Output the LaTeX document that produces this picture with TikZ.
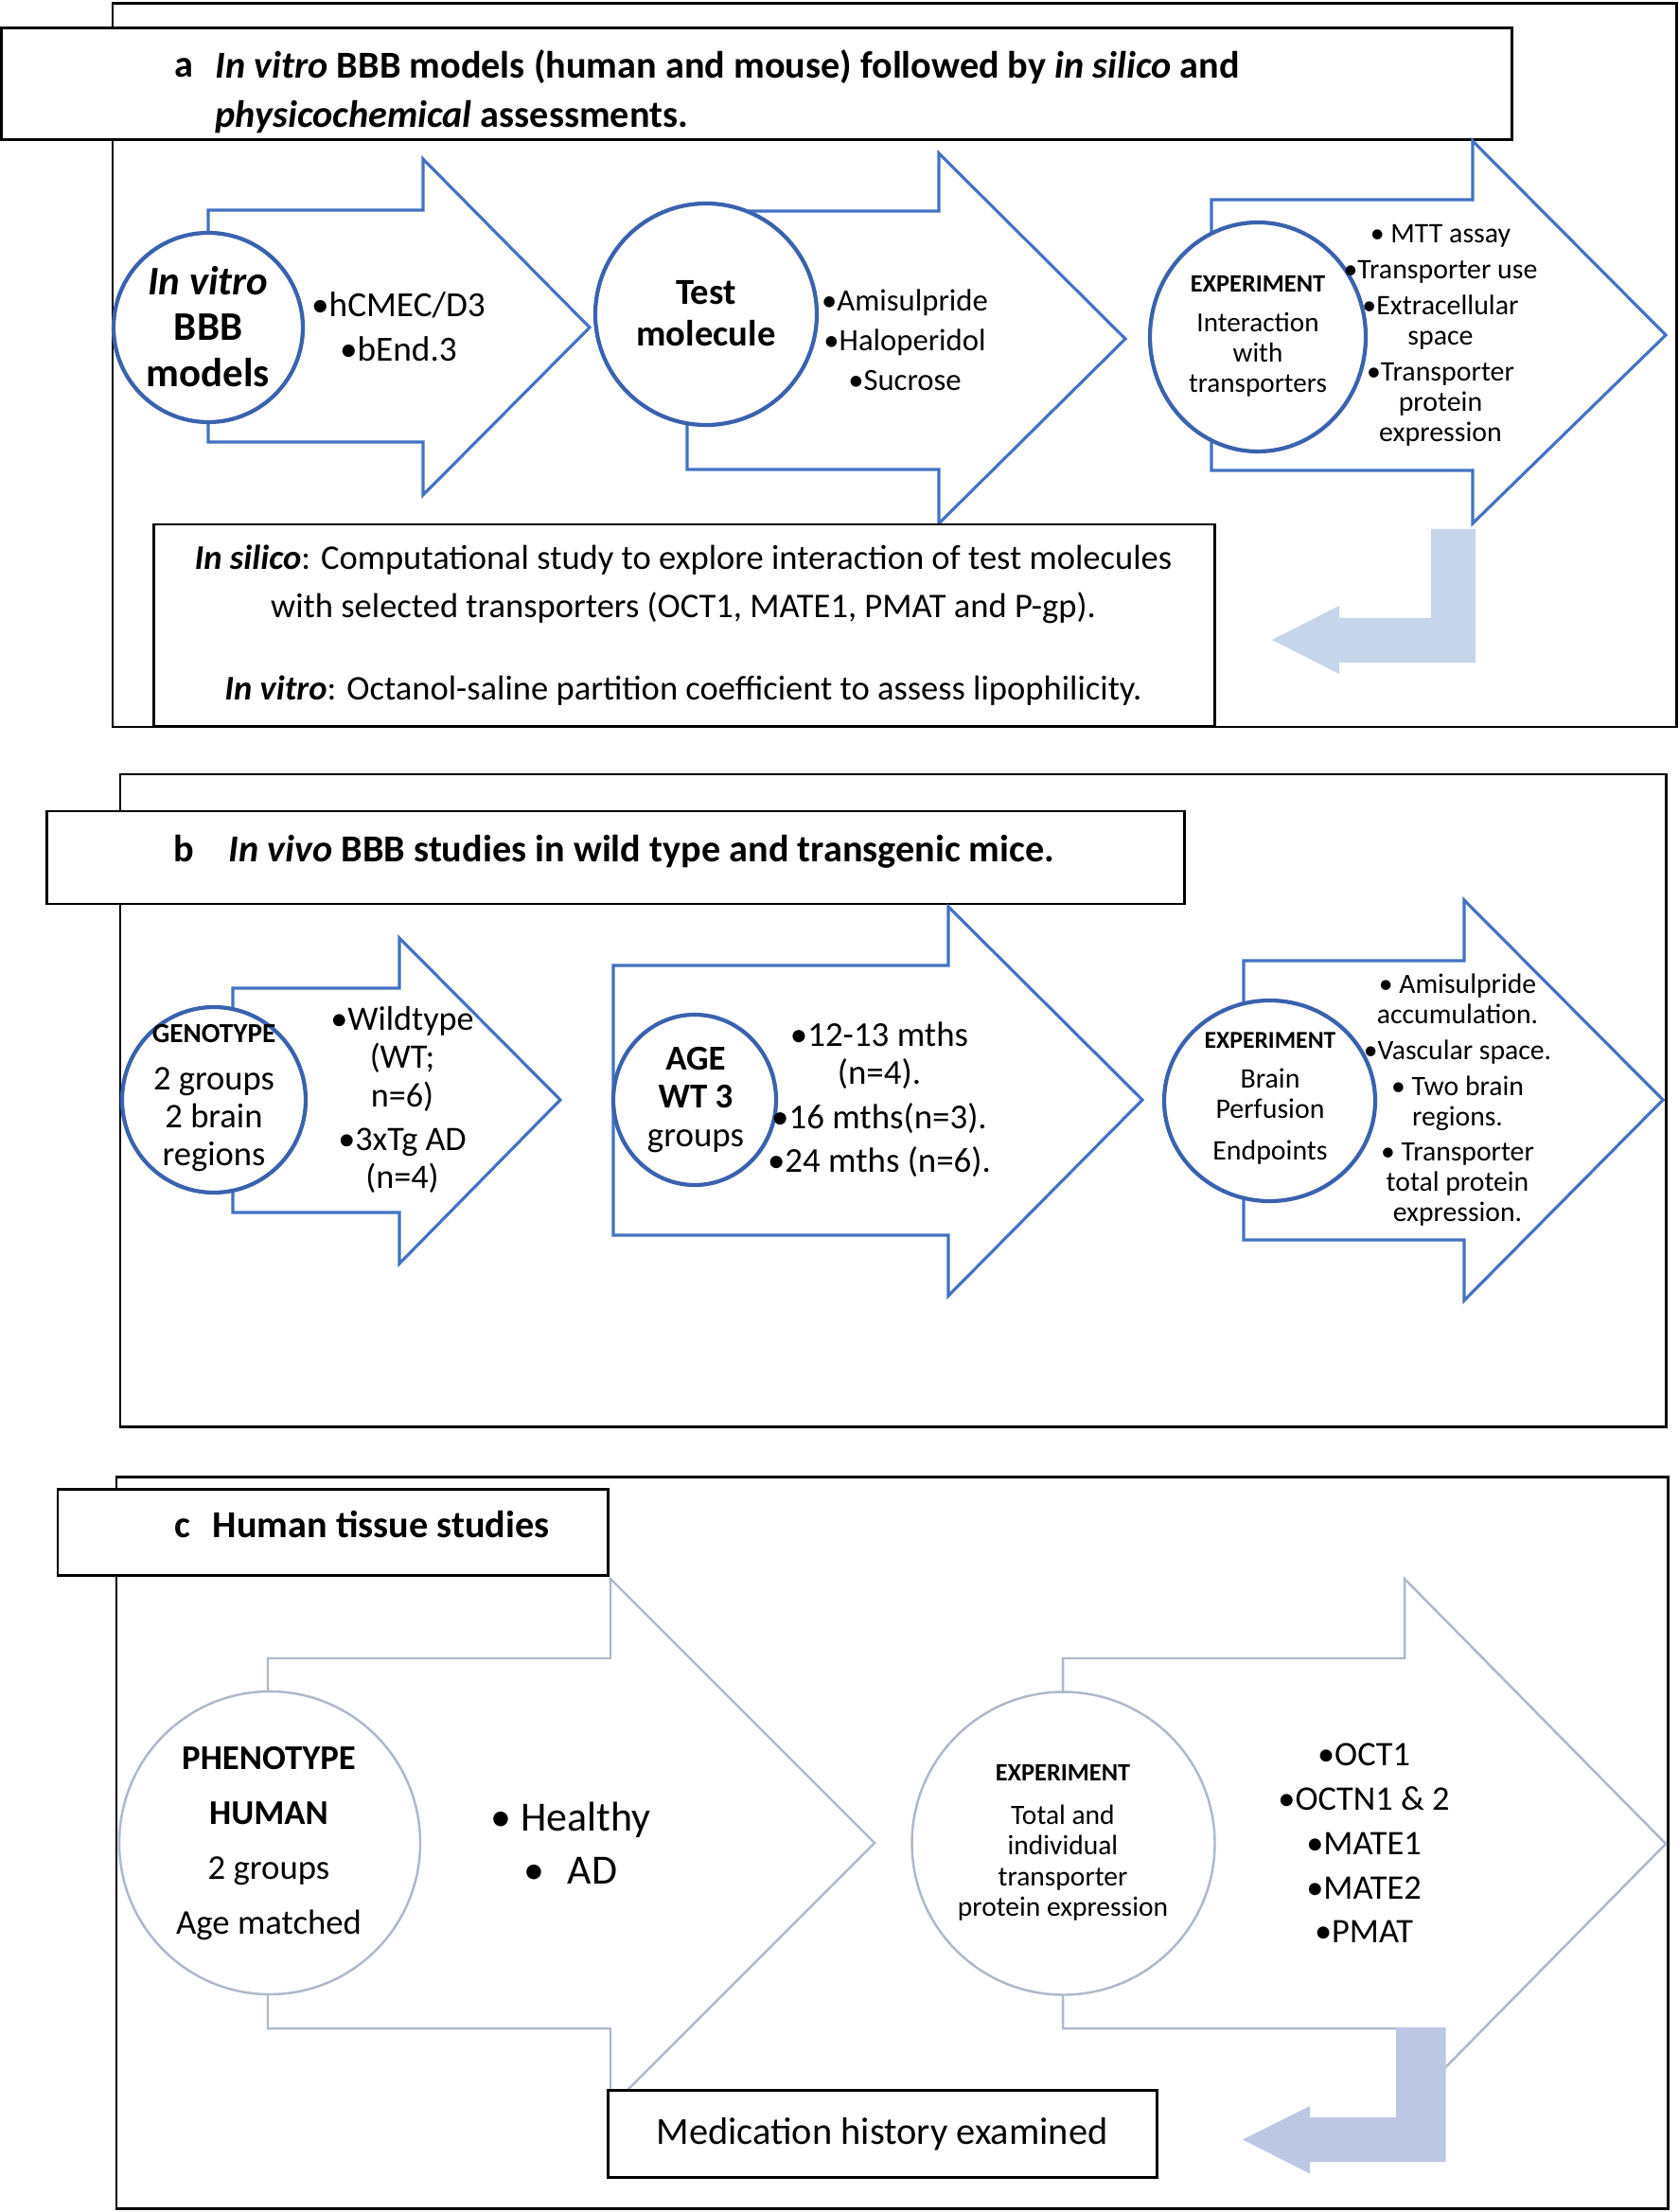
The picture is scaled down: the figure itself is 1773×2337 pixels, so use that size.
\documentclass[tikz,border=0pt]{standalone}
\usepackage{fontspec}
\setmainfont{Carlito}
\usetikzlibrary{shapes.geometric}
\newcommand{\myfs}[2]{\fontsize{#1pt}{#2pt}\selectfont}
\definecolor{arrowblue}{HTML}{4472C4}
\definecolor{circblue}{HTML}{3A62AE}
\definecolor{greyblue}{HTML}{ADB9CA}
\definecolor{bentA}{HTML}{C5D5EA}
\definecolor{bentC}{HTML}{BCC7E3}
\tikzset{
  panelbox/.style={draw=black, line width=0.85pt},
  titlebox/.style={draw=black, fill=white, line width=0.85pt},
  blockarrow/.style={draw=arrowblue, line width=0.9pt, line join=miter},
  greyarrow/.style={draw=greyblue, line width=0.7pt, line join=miter},
  circA/.style={draw=circblue, fill=white, line width=1.2pt, ellipse, inner sep=0pt},
  circC/.style={draw=greyblue, fill=white, line width=0.7pt, ellipse, inner sep=0pt},
  txt/.style={inner sep=0pt, align=center},
}
\begin{document}
\begin{tikzpicture}[x=0.1mm, y=-0.1mm]
\useasboundingbox[fill=white] (0,0) rectangle (1773,2337);

% ================= Panel a =================
\draw[panelbox] (119,4) rectangle (1771,768);
\node[titlebox, minimum width=159.6mm, minimum height=11.8mm, inner sep=0pt] (titleA) at (799,89) {};
\node[txt, anchor=base west, font=\myfs{11.45}{14.8}\bfseries] (alab) at (184,82) {a};
\node[txt, anchor=west, align=left, font=\myfs{11.45}{14.8}\bfseries] (atitle) at (227,97)
  {\textit{In vitro} BBB models (human and mouse) followed by \textit{in silico} and\\\textit{physicochemical} assessments.};

\draw[blockarrow] (220,222) -- (447,222) -- (447,168) -- (623,346) -- (447,523) -- (447,467) -- (220,467) -- cycle;
\draw[blockarrow] (726,223) -- (992,223) -- (992,162) -- (1189,358) -- (992,553) -- (992,496) -- (726,496) -- cycle;
\draw[blockarrow] (1280,211) -- (1556,211) -- (1556,149) -- (1760,354) -- (1556,553) -- (1556,497) -- (1280,497) -- cycle;

\node[circA, minimum width=20mm, minimum height=20mm] (ca1) at (220,346) {};
\node[circA, minimum width=23.4mm, minimum height=23.4mm] (ca2) at (746,332) {};
\node[circA, minimum width=22.8mm, minimum height=24.2mm] (ca3) at (1329,356) {};

\node[txt, font=\myfs{12.2}{13.7}\bfseries] (ta1) at (220,345) {\textit{In vitro}\\BBB\\models};
\node[txt, font=\myfs{10.6}{13.4}] (ba1) at (421,345) {•hCMEC/D3\\•bEnd.3};
\node[txt, font=\myfs{11}{12.5}\bfseries] (ta2) at (746,331) {Test\\molecule};
\node[txt, font=\myfs{9.3}{12}] (ba2) at (956,359) {•Amisulpride\\•Haloperidol\\•Sucrose};
\node[txt, font=\myfs{8.3}{9.1}] (ta3) at (1329,355) {{\bfseries\myfs{7.5}{9.1}EXPERIMENT}\\[2.8pt]Interaction\\with\\transporters};
\node[txt, font=\myfs{8.5}{9.1}] (ba3) at (1522,354) {• MTT assay\\[1.7pt]•Transporter use\\[1.7pt]•Extracellular\\space\\[1.7pt]•Transporter\\protein\\expression};

\fill[bentA] (1559,559) -- (1559,700) -- (1415,700) -- (1415,712) -- (1344,676) -- (1415,640) -- (1415,653) -- (1512,653) -- (1512,559) -- cycle;

\node[titlebox, minimum width=112.1mm, minimum height=21.3mm, inner sep=0pt] (boxA) at (722.5,660.5) {};
\node[txt, font=\myfs{10.4}{14.5}] (boxAtext) at (722,661)
  {\textbf{\textit{In silico}}: Computational study to explore interaction of test molecules\\with selected transporters (OCT1, MATE1, PMAT and P-gp).\\[10.2pt]\textbf{\textit{In vitro}}: Octanol-saline partition coefficient to assess lipophilicity.};

% ================= Panel b =================
\draw[panelbox] (127,818) rectangle (1760,1507);
\node[titlebox, minimum width=120.2mm, minimum height=9.8mm, inner sep=0pt] (titleB) at (650,906) {};
\node[txt, anchor=base west, font=\myfs{11.45}{14.8}\bfseries] (blab) at (183,910) {b};
\node[txt, anchor=base west, font=\myfs{11.45}{14.8}\bfseries] (btitle) at (241,910) {\textit{In vivo} BBB studies in wild type and transgenic mice.};

\draw[blockarrow] (246,1044) -- (422,1044) -- (422,991) -- (592,1162) -- (422,1335) -- (422,1281) -- (246,1281) -- cycle;
\draw[blockarrow] (648,1020) -- (1002,1020) -- (1002,958) -- (1207,1162) -- (1002,1369) -- (1002,1305) -- (648,1305) -- cycle;
\draw[blockarrow] (1314,1015) -- (1547,1015) -- (1547,951) -- (1757,1162) -- (1547,1374) -- (1547,1310) -- (1314,1310) -- cycle;

\node[circA, minimum width=19.4mm, minimum height=19.6mm] (cb1) at (226,1162) {};
\node[circA, minimum width=17.2mm, minimum height=18mm] (cb2) at (734,1162) {};
\node[circA, minimum width=22.3mm, minimum height=21.2mm] (cb3) at (1341.5,1163) {};

\node[txt, font=\myfs{10.4}{11.4}] (tb1) at (226,1160) {{\bfseries\myfs{8.3}{11.4}GENOTYPE}\\[2.8pt]2 groups\\2 brain\\regions};
\node[txt, font=\myfs{10.3}{11.5}] (bb1) at (425,1162) {•Wildtype\\(WT;\\n=6)\\[1.7pt]•3xTg AD\\(n=4)};
\node[txt, font=\myfs{10.5}{11.4}] (tb2) at (735,1162) {\textbf{AGE}\\\textbf{WT 3}\\groups};
\node[txt, font=\myfs{10.5}{11.4}] (bb2) at (929,1161.5) {•12-13 mths\\(n=4).\\[2pt]•16 mths(n=3).\\[1.7pt]•24 mths (n=6).};
\node[txt, font=\myfs{8.5}{9.1}] (tb3) at (1342,1160.5) {{\bfseries\myfs{7.3}{9.1}EXPERIMENT}\\[2.8pt]Brain\\Perfusion\\[3.4pt]Endpoints};
\node[txt, font=\myfs{8.45}{9.1}] (bb3) at (1540,1162) {• Amisulpride\\accumulation.\\[1.7pt]•Vascular space.\\[1.7pt]• Two brain\\regions.\\[1.5pt]• Transporter\\total protein\\expression.};

% ================= Panel c =================
\draw[panelbox] (123,1560) rectangle (1762,2333);

\draw[greyarrow] (283,1752) -- (645,1752) -- (645,1668) -- (924,1947) -- (645,2226) -- (645,2143) -- (283,2143) -- cycle;
\draw[greyarrow] (1123,1752) -- (1484,1752) -- (1484,1668) -- (1760,1948) -- (1484,2228) -- (1484,2143) -- (1123,2143) -- cycle;

\node[titlebox, minimum width=58.1mm, minimum height=9.1mm, inner sep=0pt] (titleC) at (351.5,1618.5) {};
\node[txt, anchor=base west, font=\myfs{11.45}{14}\bfseries] (clab) at (184,1624) {c};
\node[txt, anchor=base west, font=\myfs{11.45}{14}\bfseries] (ctitle) at (224,1624) {Human tissue studies};

\node[circC, minimum width=31.8mm, minimum height=32mm] (cc1) at (285,1947) {};
\node[circC, minimum width=32mm, minimum height=32mm] (cc2) at (1123.5,1947.5) {};

\node[txt, font=\myfs{10.45}{16.5}] (tc1) at (284,1948) {\textbf{PHENOTYPE}\\\textbf{HUMAN}\\2 groups\\Age matched};
\node[txt, font=\myfs{12.5}{15.8}] (bc1) at (603,1947) {• Healthy\\•\hspace{0.55em}AD};
\node[txt, font=\myfs{8.4}{9.2}] (tc2) at (1123,1947) {{\bfseries\myfs{7.5}{9.2}EXPERIMENT}\\[3.8pt]Total and\\individual\\transporter\\protein expression};
\node[txt, font=\myfs{10.35}{13.3}] (bc2) at (1441,1947.5) {•OCT1\\•OCTN1 \& 2\\•MATE1\\•MATE2\\•PMAT};

\fill[bentC] (1527.5,2142) -- (1527.5,2284) -- (1384,2284) -- (1384,2296.5) -- (1313,2260.5) -- (1384,2225) -- (1384,2237) -- (1475,2237) -- (1475,2142) -- cycle;

\node[titlebox, minimum width=58mm, minimum height=9.15mm, inner sep=0pt, font=\myfs{11.5}{12}] (medbox) at (932,2254.5) {Medication history examined};
\end{tikzpicture}
\end{document}
